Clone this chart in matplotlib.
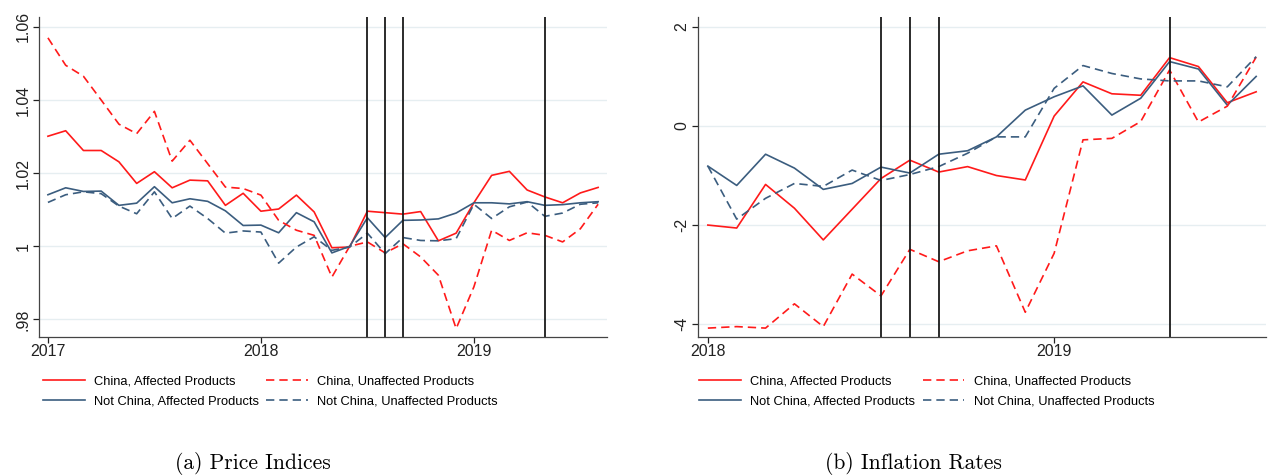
import matplotlib
matplotlib.use("Agg")
import matplotlib.pyplot as plt

# monthly series, Jan 2017 - Aug 2019 (price indices)
price_china_aff = [1.0301, 1.0316, 1.0262, 1.0262, 1.0231, 1.0172, 1.0204, 1.0160, 1.0181, 1.0179, 1.0112, 1.0145,
                   1.0096, 1.0102, 1.0140, 1.0094, 0.9996, 0.9998, 1.0096, 1.0092, 1.0088, 1.0095, 1.0015, 1.0036,
                   1.0119, 1.0194, 1.0205, 1.0154, 1.0135, 1.0119, 1.0146, 1.0161]
price_china_unaff = [1.0570, 1.0495, 1.0465, 1.0400, 1.0334, 1.0308, 1.0369, 1.0233, 1.0290, 1.0226, 1.0162, 1.0158,
                     1.0140, 1.0071, 1.0044, 1.0030, 0.9916, 1.0000, 1.0012, 0.9982, 1.0007, 0.9971, 0.9921, 0.9775,
                     0.9889, 1.0044, 1.0016, 1.0037, 1.0030, 1.0012, 1.0048, 1.0115]
price_other_aff = [1.0141, 1.0160, 1.0150, 1.0151, 1.0112, 1.0118, 1.0163, 1.0119, 1.0130, 1.0123, 1.0097, 1.0057,
                   1.0058, 1.0037, 1.0092, 1.0067, 0.9982, 1.0000, 1.0078, 1.0024, 1.0071, 1.0072, 1.0075, 1.0091,
                   1.0119, 1.0119, 1.0116, 1.0122, 1.0112, 1.0114, 1.0119, 1.0122]
price_other_unaff = [1.0120, 1.0141, 1.0149, 1.0144, 1.0110, 1.0089, 1.0149, 1.0076, 1.0110, 1.0076, 1.0036, 1.0042,
                     1.0039, 0.9954, 0.9998, 1.0026, 0.9989, 0.9998, 1.0036, 0.9980, 1.0024, 1.0016, 1.0015, 1.0021,
                     1.0115, 1.0076, 1.0108, 1.0121, 1.0082, 1.0091, 1.0115, 1.0119]

# monthly series, Jan 2018 - Aug 2019 (inflation rates)
infl_china_aff = [-2.00, -2.06, -1.18, -1.66, -2.30, -1.68, -1.06, -0.69, -0.93, -0.82,
                  -1.00, -1.09, 0.20, 0.89, 0.65, 0.62, 1.38, 1.20, 0.47, 0.69]
infl_china_unaff = [-4.08, -4.05, -4.08, -3.59, -4.05, -2.99, -3.43, -2.49, -2.74, -2.52,
                    -2.42, -3.76, -2.57, -0.28, -0.25, 0.09, 1.13, 0.08, 0.40, 1.39]
infl_other_aff = [-0.81, -1.20, -0.57, -0.85, -1.28, -1.16, -0.83, -0.95, -0.57, -0.50,
                  -0.22, 0.32, 0.59, 0.81, 0.22, 0.56, 1.30, 1.15, 0.42, 1.00]
infl_other_unaff = [-0.81, -1.88, -1.46, -1.16, -1.22, -0.89, -1.10, -0.98, -0.82, -0.55,
                    -0.22, -0.22, 0.76, 1.22, 1.06, 0.95, 0.91, 0.91, 0.79, 1.40]

labels = ["China, Affected Products", "Not China, Affected Products",
          "China, Unaffected Products", "Not China, Unaffected Products"]

price_years = ["2017", "2018", "2019"]
infl_years = ["2018", "2019"]
price_events = [18, 19, 20, 28]   # months since Jan 2017
infl_events = [6, 7, 8, 16]       # months since Jan 2018

price_yticks = [0.98, 1.0, 1.02, 1.04, 1.06]
price_yticklabels = [".98", "1", "1.02", "1.04", "1.06"]
infl_yticks = [-4, -2, 0, 2]
infl_yticklabels = ["-4", "-2", "0", "2"]

plt.rcParams["font.family"] = ["Liberation Sans", "DejaVu Sans"]

red = "#ff1a1a"
blue = "#3b5d7f"
grid_c = "#e6eef1"


def panel(ax, series, years, events, yticks, yticklabels, ylim):
    n = len(series[0])
    x = list(range(n))
    ca, oa, cu, ou = series
    ax.grid(axis="y", color=grid_c, lw=1.0, zorder=0)
    ax.set_axisbelow(True)
    h1, = ax.plot(x, ca, color=red, lw=1.2)
    h2, = ax.plot(x, oa, color=blue, lw=1.2)
    h3, = ax.plot(x, cu, color=red, lw=1.2, dashes=(5, 3))
    h4, = ax.plot(x, ou, color=blue, lw=1.2, dashes=(5, 3))
    for e in events:
        ax.axvline(e, color="#1a1a1a", lw=1.3)
    pad = 0.5 if n > 20 else 0.34
    ax.set_xlim(-pad, n - 1 + pad)
    ax.set_ylim(*ylim)
    ax.set_xticks([12 * i for i in range(len(years))])
    ax.set_xticklabels(years, fontsize=11.5)
    ax.set_yticks(yticks)
    ax.set_yticklabels(yticklabels, fontsize=11.5, rotation=90, va="center")
    ax.tick_params(axis="x", length=4.3, width=0.9, pad=1, colors="#222222")
    ax.tick_params(axis="y", length=4.0, width=0.9, pad=2, colors="#222222")
    for s in ["top", "right"]:
        ax.spines[s].set_visible(False)
    for s in ["left", "bottom"]:
        ax.spines[s].set_color("#444444")
        ax.spines[s].set_linewidth(0.9)
    return [h1, h2, h3, h4]


fig = plt.figure(figsize=(12.68, 4.75), dpi=100)
ax1 = fig.add_axes([0.0308, 0.2905, 0.4479, 0.6737])
ax2 = fig.add_axes([0.5505, 0.2905, 0.4479, 0.6737])

hs1 = panel(ax1, [price_china_aff, price_other_aff, price_china_unaff, price_other_unaff],
            price_years, price_events, price_yticks, price_yticklabels, (0.9752, 1.0627))
hs2 = panel(ax2, [infl_china_aff, infl_other_aff, infl_china_unaff, infl_other_unaff],
            infl_years, infl_events, infl_yticks, infl_yticklabels, (-4.26, 2.2))

leg_kw = dict(ncol=2, frameon=False, fontsize=9.3, handlelength=3.2, handletextpad=0.75,
              columnspacing=0.55, labelspacing=0.62, borderpad=0, loc="center left")
fig.legend(hs1, labels, bbox_to_anchor=(0.029, 0.176), **leg_kw)
fig.legend(hs2, labels, bbox_to_anchor=(0.5465, 0.176), **leg_kw)

fig.text(0.1995, 0.0, "(a) Price Indices", family="cmr10", fontsize=15.5, ha="center", va="bottom")
fig.text(0.720, 0.0, "(b) Inflation Rates", family="cmr10", fontsize=15.5, ha="center", va="bottom")

fig.savefig("out.png", dpi=100)
